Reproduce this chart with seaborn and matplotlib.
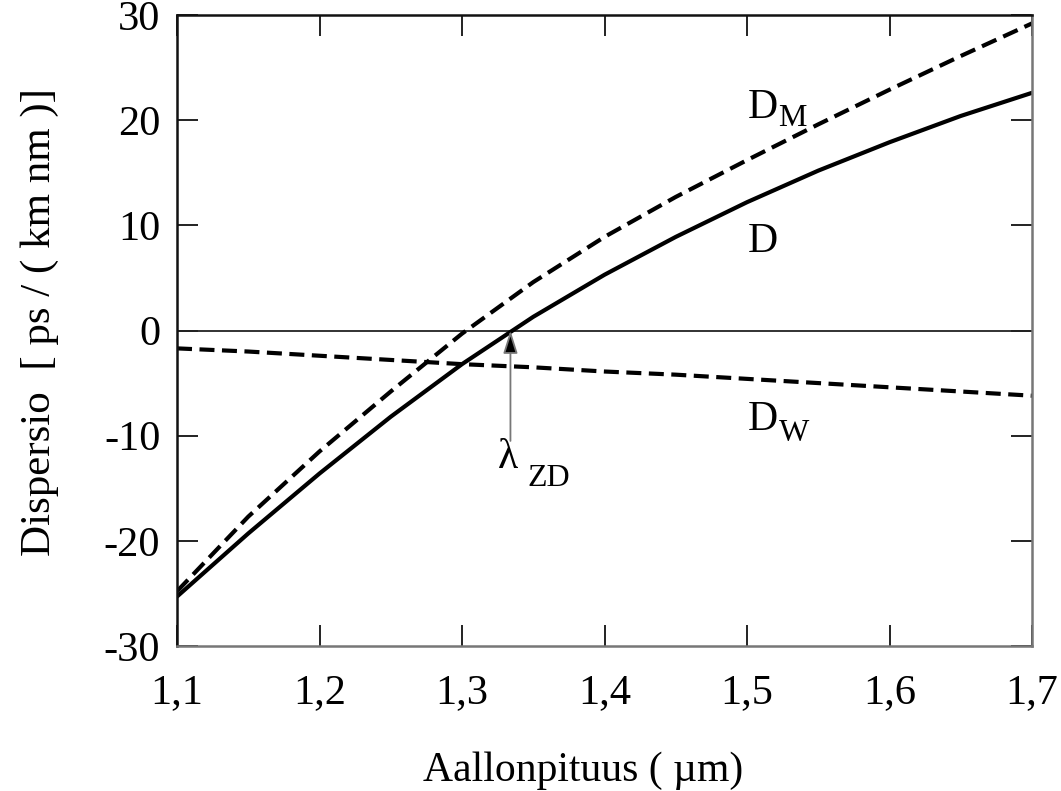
import numpy as np
import pandas as pd
import matplotlib
matplotlib.use("Agg")
import matplotlib.pyplot as plt
import seaborn as sns

# ---- data ----
wavelength = [1.10, 1.15, 1.20, 1.25, 1.30, 1.35, 1.40, 1.45, 1.50, 1.55, 1.60, 1.65, 1.70]
D_total    = [-25.3, -19.3, -13.6, -8.2, -3.2, 1.3, 5.3, 8.9, 12.2, 15.2, 17.9, 20.4, 22.6]
D_material = [-24.8, -17.7, -11.5, -5.8, -0.3, 4.6, 8.9, 12.7, 16.2, 19.6, 22.9, 26.1, 29.2]
D_waveguide = [-1.7, -2.0, -2.4, -2.8, -3.2, -3.5, -3.9, -4.2, -4.6, -5.0, -5.4, -5.8, -6.2]
lambda_zd = 1.334

x_ticks = [1.1, 1.2, 1.3, 1.4, 1.5, 1.6, 1.7]
x_ticklabels = ["1,1", "1,2", "1,3", "1,4", "1,5", "1,6", "1,7"]
y_ticks = [-30, -20, -10, 0, 10, 20, 30]
y_ticklabels = ["-30", "-20", "-10", "0", "10", "20", "30"]

sns.set_style("ticks")
plt.rcParams["font.family"] = ["Liberation Serif", "DejaVu Serif"]
plt.rcParams["mathtext.fontset"] = "custom"
plt.rcParams["mathtext.rm"] = "Liberation Serif"
for key in ["text.color", "axes.labelcolor", "xtick.color", "ytick.color",
            "xtick.labelcolor", "ytick.labelcolor"]:
    plt.rcParams[key] = "black"

fig = plt.figure(figsize=(10.61, 7.91), dpi=100)
ax = fig.add_axes([177 / 1061, 1 - 646 / 791, (1032 - 177) / 1061, (646 - 15) / 791])

df = pd.DataFrame({"wl": wavelength, "D": D_total, "DM": D_material, "DW": D_waveguide})

sns.lineplot(data=df, x="wl", y="D", ax=ax, color="black", lw=3.0, estimator=None)
sns.lineplot(data=df, x="wl", y="DM", ax=ax, color="black", lw=3.0, estimator=None,
             linestyle=(0, (3.8, 1.8)))
sns.lineplot(data=df, x="wl", y="DW", ax=ax, color="black", lw=3.0, estimator=None,
             linestyle=(0, (3.6, 1.8)))

ax.axhline(0, color="#222222", lw=1.3, zorder=1)

ax.set_xlim(1.1, 1.7)
ax.set_ylim(-30, 30)
ax.set_xticks(x_ticks)
ax.set_xticklabels(x_ticklabels)
ax.set_yticks(y_ticks)
ax.set_yticklabels(y_ticklabels)

ax.tick_params(axis="both", which="major", direction="in", length=15, width=1.4,
               color="#222222", labelcolor="black", labelsize=30.5, top=True, right=True)
ax.tick_params(axis="x", pad=20)
ax.tick_params(axis="y", pad=12)

for side in ["left", "top"]:
    ax.spines[side].set_linewidth(1.8)
    ax.spines[side].set_color("#111111")
for side in ["right", "bottom"]:
    ax.spines[side].set_linewidth(1.8)
    ax.spines[side].set_color("#777777")

ax.set_xlabel("Aallonpituus ( µm)", fontsize=30, color="black")
ax.set_ylabel("Dispersio  [ ps / ( km nm )]", fontsize=31, color="black")
ax.xaxis.label.set_va("center")
ax.yaxis.label.set_va("center")
ax.xaxis.set_label_coords(0.475, -0.197)
ax.yaxis.set_label_coords(-0.160, 0.513)

# curve labels
fs_main, fs_sub = 30, 23
ax.text(1.5007, 20.2, "D", fontsize=fs_main, ha="left", va="baseline")
ax.text(1.5218, 19.4, "M", fontsize=fs_sub, ha="left", va="baseline")
ax.text(1.5007, 7.5, "D", fontsize=fs_main, ha="left", va="baseline")
ax.text(1.5007, -9.5, "D", fontsize=fs_main, ha="left", va="baseline")
ax.text(1.5225, -10.5, "W", fontsize=fs_sub, ha="left", va="baseline")
ax.text(1.3255, -13.05, "λ", fontsize=fs_main, ha="left", va="baseline")
ax.text(1.3460, -14.8, "ZD", fontsize=fs_sub, ha="left", va="baseline")

ax.annotate("", xy=(lambda_zd, 0.0), xytext=(lambda_zd, -10.5),
            arrowprops=dict(arrowstyle="-|>,head_length=0.7,head_width=0.22",
                            mutation_scale=20, ec="#777777", fc="black", lw=1.3,
                            shrinkA=0, shrinkB=0))

fig.savefig("out.png", dpi=100)
